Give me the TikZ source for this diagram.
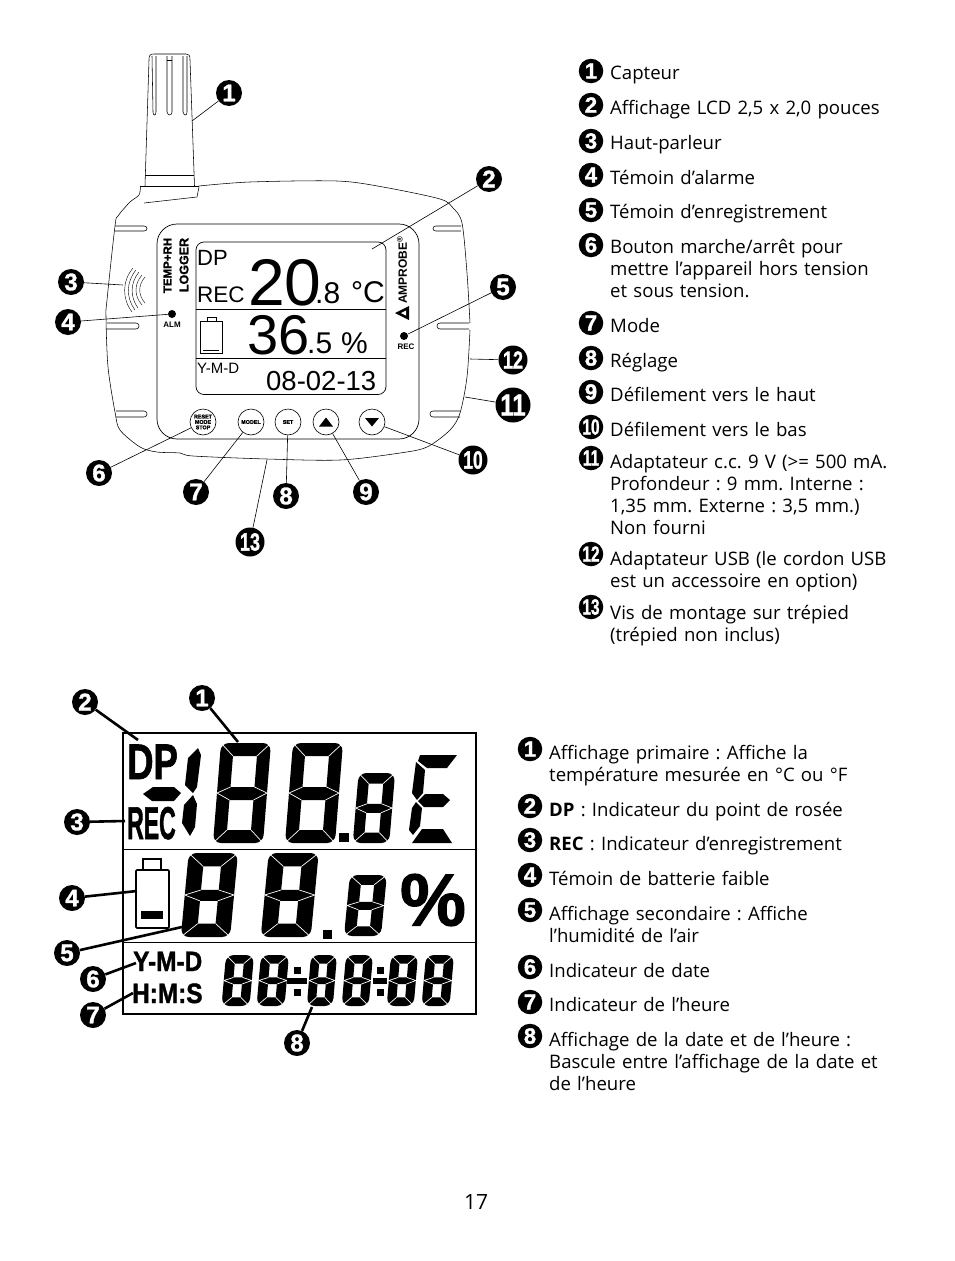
\documentclass[tikz,border=0pt]{standalone}
\usepackage{fontspec}
\setmainfont{Open Sans}
\newfontfamily\lcdfont{Liberation Sans}
\newfontfamily\digitfont[UprightFont={* Bold},FakeBold=1.5]{Liberation Sans}
\usepackage{tikz}
\usetikzlibrary{positioning, arrows.meta, shapes.geometric}
\usepackage{xcolor}

% Seven segment digit, 50 wide and 100 high before scaling, segment thickness as argument
\tikzset{
    pics/lcddigit/.style={code={
        \begin{scope}[xslant=0.08]
            \fill[black, even odd rule, rounded corners=8pt] (0,0) rectangle (50,100)
                [sharp corners] (#1,#1) rectangle ({50-#1},44) (#1,57) rectangle ({50-#1},{100-#1});
            \draw[white, line width=0.7pt] (1,1) -- (#1,#1) (49,1) -- ({50-#1},#1)
                (0,50) -- (#1,44) (0,50) -- (#1,57) (50,50) -- ({50-#1},44) (50,50) -- ({50-#1},57)
                (1,99) -- (#1,{100-#1}) (49,99) -- ({50-#1},{100-#1});
        \end{scope}
    }},
    pics/lcddigit/.default=13,
    callout/.style={circle, fill=black, text=white, minimum size=26pt, inner sep=0pt,
        font=\digitfont\fontsize{24}{24}\selectfont},
    calloutmid/.style={callout, minimum size=29pt, font=\digitfont\fontsize{25}{25}\selectfont},
    calloutlarge/.style={callout, minimum size=35pt, font=\digitfont\fontsize{30}{30}\selectfont},
    calloutsmall/.style={callout, minimum size=24.5pt, font=\digitfont\fontsize{22}{22}\selectfont},
    leader/.style={line width=0.6pt},
    leaderbold/.style={line width=2.6pt},
    housing/.style={line width=0.55pt},
    btn/.style={circle, draw, line width=0.6pt, minimum size=26pt, inner sep=0pt,
        font=\digitfont\fontsize{5.4}{5.4}\selectfont, align=center},
    entry/.style={anchor=base west, text width=400pt, align=left, inner sep=0pt,
        font=\frenchspacing\fontsize{18.6}{22}\selectfont},
    lcdtext/.style={anchor=base west, inner sep=0pt, font=\lcdfont},
}

\begin{document}
\begin{tikzpicture}[x=1pt, y=-1pt]
    \useasboundingbox (0,0) rectangle (954,1261);

    % Sensor
    \draw[housing] (149,60) .. controls (149,55) and (150,54) .. (154,54) -- (186,54)
        .. controls (189,54) and (190,55) .. (190,60) -- (194.5,186);
    \draw[housing] (149,60) -- (145,186);
    \draw[housing] (145,175) -- (194,175);
    \draw[housing] (152,56) -- (153,112) .. controls (153,116) and (156,116) .. (156,112) -- (156,56);
    \draw[housing] (167,56) -- (167,112) .. controls (168,116) and (172,116) .. (172,112) -- (172,56);
    \draw[housing] (183,56) -- (183,112) .. controls (184,116) and (187,116) .. (187,112) -- (187,56);
    \draw[housing] (167,60) -- (172,60);

    % Housing outline
    \draw[housing] (199,186) -- (140,186);
    \draw[housing] plot[smooth, tension=0.5] coordinates {(140.5,186) (139,195) (130,202) (118,216)
        (115,226) (107,300) (106,317) (108,367) (115,412) (120,430) (140,447) (157,452) (180,453)
        (193,456) (267,459) (340,460) (400,453) (427,447) (450,430) (460,413) (467,377) (470,330)};
    \draw[housing] plot[smooth, tension=0.5] coordinates {(470,323) (467,273) (462,223) (453,208)
        (440,199) (383,187) (337,181) (250,182) (199,186)};
    \draw[housing] (144,203) -- (197,197) -- (199,187);

    % Housing notches
    \draw[housing] (115,226) -- (144,226) .. controls (148,226) and (148,231) .. (144,231) -- (115,231);
    \draw[housing] (107,323) -- (136,323) .. controls (140,323) and (140,329) .. (136,329) -- (107,329);
    \draw[housing] (116,411) -- (144,411) .. controls (148,411) and (148,417) .. (144,417) -- (116,417);
    \draw[housing] (461,226) -- (436,226) .. controls (432,226) and (432,231) .. (436,231) -- (461,231);
    \draw[housing] (469,323) -- (440,323) .. controls (436,323) and (436,329) .. (440,329) -- (469,329);
    \draw[housing] (460,411) -- (433,411) .. controls (429,411) and (429,417) .. (433,417) -- (460,417);

    % Front panel and screen
    \draw[line width=0.7pt, rounded corners=20pt] (157,224) rectangle (419,439);
    \draw[line width=0.7pt, rounded corners=8pt] (196,242) rectangle (386,394.5);
    \draw[line width=0.7pt] (196,309) -- (386,309);
    \draw[line width=0.7pt] (196,358) -- (386,358);

    % Screen readings
    \node[lcdtext, font=\lcdfont\fontsize{22}{22}\selectfont] (dpsmall) at (197,265) {DP};
    \node[lcdtext, font=\lcdfont\fontsize{22.5}{22}\selectfont] (recsmall) at (197,302) {REC};
    \node[lcdtext, font=\lcdfont\fontsize{66}{66}\selectfont] (tempval) at (248,305) {20};
    \node[lcdtext, font=\lcdfont\fontsize{30}{30}\selectfont] (tempdec) at (315,303) {.8};
    \node[lcdtext, font=\lcdfont\fontsize{30}{30}\selectfont] (tempunit) at (351,302) {°C};
    \node[lcdtext, font=\lcdfont\fontsize{56}{56}\selectfont] (humval) at (247,354) {36};
    \node[lcdtext, font=\lcdfont\fontsize{30}{30}\selectfont] (humdec) at (307,353) {.5};
    \node[lcdtext, font=\lcdfont\fontsize{30}{30}\selectfont] (humunit) at (341,353) {\%};
    \node[lcdtext, font=\lcdfont\fontsize{15}{15}\selectfont] (ymdsmall) at (197,373) {Y-M-D};
    \node[lcdtext, font=\lcdfont\fontsize{27.5}{27}\selectfont] (datesmall) at (266,390) {08-02-13};

    % Small battery
    \draw[line width=0.6pt] (200,321) rectangle (222,353);
    \draw[line width=0.6pt] (207,317) rectangle (216,321);
    \draw[line width=0.6pt] (203,350) -- (219,350);

    % Panel printing
    \node[lcdtext, anchor=center, rotate=90, font=\digitfont\fontsize{11.5}{12}\selectfont] (brandone) at (167.5,265.5) {TEMP+RH};
    \node[lcdtext, anchor=center, rotate=90, font=\digitfont\fontsize{12.5}{13}\selectfont] (brandtwo) at (184,265) {LOGGER};
    \node[lcdtext, anchor=center, rotate=90, font=\lcdfont\bfseries\fontsize{12}{12}\selectfont] (brandthree) at (402,270) {AMPROBE\textsuperscript{®}};
    \fill (395,313) -- (409,306) -- (409,320) -- cycle;
    \fill[white] (401,313) -- (406,310.5) -- (406,315.5) -- cycle;

    % Speaker
    \draw[line width=0.4pt] (133,268) .. controls (122,281) and (122,299) .. (132,312);
    \draw[line width=0.4pt] (136,270) .. controls (126,282) and (126,298) .. (135,310);
    \draw[line width=0.4pt] (139,272) .. controls (130,283) and (130,297) .. (138,308);
    \draw[line width=0.4pt] (142,275) .. controls (134,284) and (134,296) .. (142,305);
    \draw[line width=0.4pt] (145,277) .. controls (138,285) and (138,295) .. (145,303);

    % Lamps
    \node[circle, fill=black, minimum size=8pt, inner sep=0pt] (almlamp) at (172,314) {};
    \node[lcdtext, anchor=center, font=\lcdfont\bfseries\fontsize{8}{8}\selectfont] (almtext) at (172,325) {ALM};
    \node[circle, fill=black, minimum size=8pt, inner sep=0pt] (reclamp) at (404,336) {};
    \node[lcdtext, anchor=center, font=\lcdfont\bfseries\fontsize{8}{8}\selectfont] (rectext) at (406,347) {REC};

    % Buttons
    \node[btn] (btnreset) at (203,422) {RESET\\MODE\\STOP};
    \node[btn] (btnmodel) at (251,422) {MODEL};
    \node[btn] (btnset) at (288,422) {SET};
    \node[btn] (btnup) at (326,422) {};
    \node[btn] (btndown) at (372,422) {};
    \fill (319,426.5) -- (333,426.5) -- (326,417.5) -- cycle;
    \fill (365,418) -- (379,418) -- (372,426.5) -- cycle;

    % Free ends of the upper leaders
    \coordinate (tipsensor) at (192,121);
    \coordinate (tipscreen) at (372,249);
    \coordinate (tipspeaker) at (123,285);
    \coordinate (tipusb) at (470,359);
    \coordinate (tipdc) at (465,397);
    \coordinate (tipscrew) at (267,460);

    % Upper callouts
    \node[callout] (devone) at (229,93) {1};
    \node[callout] (devtwo) at (489,179) {2};
    \node[callout] (devthree) at (71,282) {3};
    \node[callout] (devfour) at (68,322) {4};
    \node[callout] (devfive) at (503,287) {5};
    \node[callout] (devsix) at (99,473) {6};
    \node[callout] (devseven) at (196,492) {7};
    \node[callout] (deveight) at (286,496) {8};
    \node[callout] (devnine) at (366,492) {9};
    \node[calloutmid] (devten) at (473,460) {\scalebox{0.7}[1]{10}};
    \node[calloutlarge] (develeven) at (513,405) {\scalebox{0.8}[1]{11}};
    \node[calloutmid] (devtwelve) at (513,360) {\scalebox{0.72}[1]{12}};
    \node[calloutmid] (devthirteen) at (250,542) {\scalebox{0.72}[1]{13}};

    % Upper leaders
    \draw[leader] (devone) -- (tipsensor);
    \draw[leader] (devtwo) -- (tipscreen);
    \draw[leader] (devthree) -- (tipspeaker);
    \draw[leader] (devfour) -- (almlamp);
    \draw[leader] (devfive) -- (reclamp);
    \draw[leader] (devsix) -- (btnreset);
    \draw[leader] (devseven) -- (btnmodel);
    \draw[leader] (deveight) -- (btnset);
    \draw[leader] (devnine) -- (btnup);
    \draw[leader] (devten) -- (btndown);
    \draw[leader] (develeven) -- (tipdc);
    \draw[leader] (devtwelve) -- (tipusb);
    \draw[leader] (devthirteen) -- (tipscrew);

    % Upper list
    \node[calloutsmall] (listone) at (591,71) {1};
    \node[entry] (textone) at (610,79) {Capteur};
    \node[calloutsmall] (listtwo) at (591,105) {2};
    \node[entry] (texttwo) at (610,114) {Affichage LCD 2,5 x 2,0 pouces};
    \node[calloutsmall] (listthree) at (591,141) {3};
    \node[entry] (textthree) at (610,149) {Haut-parleur};
    \node[calloutsmall] (listfour) at (591,175) {4};
    \node[entry] (textfour) at (610,184) {Témoin d’alarme};
    \node[calloutsmall] (listfive) at (591,210) {5};
    \node[entry] (textfive) at (610,218) {Témoin d’enregistrement};
    \node[calloutsmall] (listsix) at (591,245) {6};
    \node[entry] (textsix) at (610,253) {Bouton marche/arrêt pour\\mettre l’appareil hors tension\\et sous tension.};
    \node[calloutsmall] (listseven) at (591,323) {7};
    \node[entry] (textseven) at (610,332) {Mode};
    \node[calloutsmall] (listeight) at (591,358) {8};
    \node[entry] (texteight) at (610,367) {Réglage};
    \node[calloutsmall] (listnine) at (591,392) {9};
    \node[entry] (textnine) at (610,401) {Défilement vers le haut};
    \node[calloutsmall] (listten) at (591,427) {\scalebox{0.7}[1]{10}};
    \node[entry] (textten) at (610,436) {Défilement vers le bas};
    \node[calloutsmall] (listeleven) at (591,458) {\scalebox{0.7}[1]{11}};
    \node[entry] (texteleven) at (610,468) {Adaptateur c.c. 9 V (>= 500 mA.\\Profondeur : 9 mm. Interne :\\1,35 mm. Externe : 3,5 mm.)\\Non fourni};
    \node[calloutsmall] (listtwelve) at (591,554) {\scalebox{0.7}[1]{12}};
    \node[entry] (texttwelve) at (610,565) {Adaptateur USB (le cordon USB\\est un accessoire en option)};
    \node[calloutsmall] (listthirteen) at (591,607) {\scalebox{0.7}[1]{13}};
    \node[entry] (textthirteen) at (610,619) {Vis de montage sur trépied\\(trépied non inclus)};

    % Large display frame
    \draw[line width=1.2pt] (123,733) rectangle (476,1014);
    \draw[line width=0.9pt] (123,849) -- (476,849);
    \draw[line width=0.9pt] (123,942) -- (476,942);

    % First row
    \pic[shift={(221,743)}] {lcddigit};
    \pic[shift={(293,743)}] {lcddigit};
    \pic[shift={(358.6,773)}, xscale=0.73, yscale=0.7] {lcddigit=15};
    \fill (339,833) rectangle (349,842);
    \fill (198,748) -- (201,755) -- (197,787) -- (193,793) -- (185,785) -- (188,758) -- cycle;
    \fill (193,795) -- (197,804) -- (195,827) -- (190,836) -- (182,823) -- (184,805) -- cycle;
    \fill (153,787) -- (174,787) -- (181,793) -- (174,801) -- (152,801) -- (143,794) -- cycle;
    \fill (420,755) -- (457,755) -- (447,768) -- (427,768) -- (418,761) -- cycle;
    \fill (416,762) -- (425,770) -- (423,793) -- (417,800) -- (412,793) -- cycle;
    \fill (425,794) -- (443,794) -- (450,800) -- (443,807) -- (424,807) -- (418,801) -- cycle;
    \fill (416,802) -- (422,808) -- (420,826) -- (413,835) -- (409,830) -- (412,808) -- cycle;
    \fill (422,829) -- (443,829) -- (452,843) -- (412,843) -- cycle;

    % Second row
    \pic[shift={(188.7,853)}, xscale=0.986, yscale=0.84] {lcddigit=16};
    \pic[shift={(268.7,853)}, xscale=1.0, yscale=0.84] {lcddigit=16};
    \pic[shift={(349.9,875)}, xscale=0.74, yscale=0.61] {lcddigit=16};
    \fill (323,930) rectangle (332,939);
    \node[lcdtext, anchor=center, font=\digitfont\fontsize{74}{74}\selectfont] (pctsign) at (433,900) {\%};

    % Large battery
    \draw[line width=1.6pt, rounded corners=1pt] (136,870) rectangle (169,928);
    \draw[line width=1.3pt] (143,870) -- (143,859) -- (161,859) -- (161,870);
    \fill (141,911) rectangle (163,919);

    % Third row
    \pic[shift={(226,955)}, xscale=0.56, yscale=0.51] {lcddigit=17};
    \pic[shift={(261,955)}, xscale=0.56, yscale=0.51] {lcddigit=17};
    \pic[shift={(311,955)}, xscale=0.52, yscale=0.51] {lcddigit=17};
    \pic[shift={(346,955)}, xscale=0.54, yscale=0.51] {lcddigit=17};
    \pic[shift={(391,955)}, xscale=0.54, yscale=0.51] {lcddigit=17};
    \pic[shift={(426,955)}, xscale=0.56, yscale=0.51] {lcddigit=17};
    \fill (294,967) rectangle (301,974);
    \fill (294,989) rectangle (301,996);
    \fill (377,967) rectangle (384,974);
    \fill (377,989) rectangle (384,996);
    \fill (287,978) rectangle (307,984);
    \fill (373,978) rectangle (387,984);

    % Condensed labels
    \node[lcdtext, font=\digitfont\fontsize{50}{50}\selectfont] (dplarge) at (127,779) {\scalebox{0.73}[1]{DP}};
    \node[lcdtext, font=\digitfont\fontsize{46}{46}\selectfont] (reclarge) at (127,839) {\scalebox{0.5}[1]{REC}};
    \node[lcdtext, font=\digitfont\fontsize{28}{28}\selectfont] (ymdlarge) at (133,971) {\scalebox{0.87}[1]{Y-M-D}};
    \node[lcdtext, font=\digitfont\fontsize{28}{28}\selectfont] (hmslarge) at (132,1003) {\scalebox{0.87}[1]{H:M:S}};

    % Free ends of the lower leaders
    \coordinate (tipdigit) at (238,742);
    \coordinate (tipdp) at (138,740);
    \coordinate (tiprec) at (125,821);
    \coordinate (tipbatt) at (137,891);
    \coordinate (tiphum) at (182,927);
    \coordinate (tipymd) at (136,963);
    \coordinate (tiphms) at (133,993);
    \coordinate (tiptime) at (312,1007);

    % Lower callouts
    \node[callout] (lcdone) at (202,698) {1};
    \node[callout] (lcdtwo) at (85,702) {2};
    \node[callout] (lcdthree) at (77,822) {3};
    \node[callout] (lcdfour) at (72,898) {4};
    \node[callout] (lcdfive) at (67,953) {5};
    \node[callout] (lcdsix) at (93,979) {6};
    \node[callout] (lcdseven) at (93,1015) {7};
    \node[callout] (lcdeight) at (297,1043) {8};

    % Lower leaders
    \draw[leaderbold] (lcdone) -- (tipdigit);
    \draw[leaderbold] (lcdtwo) -- (tipdp);
    \draw[leaderbold] (lcdthree) -- (tiprec);
    \draw[leaderbold] (lcdfour) -- (tipbatt);
    \draw[leaderbold] (lcdfive) -- (tiphum);
    \draw[leaderbold] (lcdsix) -- (tipymd);
    \draw[leaderbold] (lcdseven) -- (tiphms);
    \draw[leaderbold] (lcdeight) -- (tiptime);

    % Lower list
    \node[calloutsmall] (keyone) at (530,749) {1};
    \node[entry] (labelone) at (549,759) {Affichage primaire : Affiche la\\température mesurée en °C ou °F};
    \node[calloutsmall] (keytwo) at (530,806) {2};
    \node[entry] (labeltwo) at (549,816) {\textbf{DP} : Indicateur du point de rosée};
    \node[calloutsmall] (keythree) at (530,840) {3};
    \node[entry] (labelthree) at (549,850) {\textbf{REC} : Indicateur d’enregistrement};
    \node[calloutsmall] (keyfour) at (530,875) {4};
    \node[entry] (labelfour) at (549,885) {Témoin de batterie faible};
    \node[calloutsmall] (keyfive) at (530,910) {5};
    \node[entry] (labelfive) at (549,920) {Affichage secondaire : Affiche\\l’humidité de l’air};
    \node[calloutsmall] (keysix) at (530,967) {6};
    \node[entry] (labelsix) at (549,977) {Indicateur de date};
    \node[calloutsmall] (keyseven) at (530,1002) {7};
    \node[entry] (labelseven) at (549,1011) {Indicateur de l’heure};
    \node[calloutsmall] (keyeight) at (530,1036) {8};
    \node[entry] (labeleight) at (549,1046) {Affichage de la date et de l’heure :\\Bascule entre l’affichage de la date et\\de l’heure};

    % Page number
    \node[entry, font=\fontsize{21}{22}\selectfont] (pagenum) at (464,1209) {17};

\end{tikzpicture}
\end{document}
